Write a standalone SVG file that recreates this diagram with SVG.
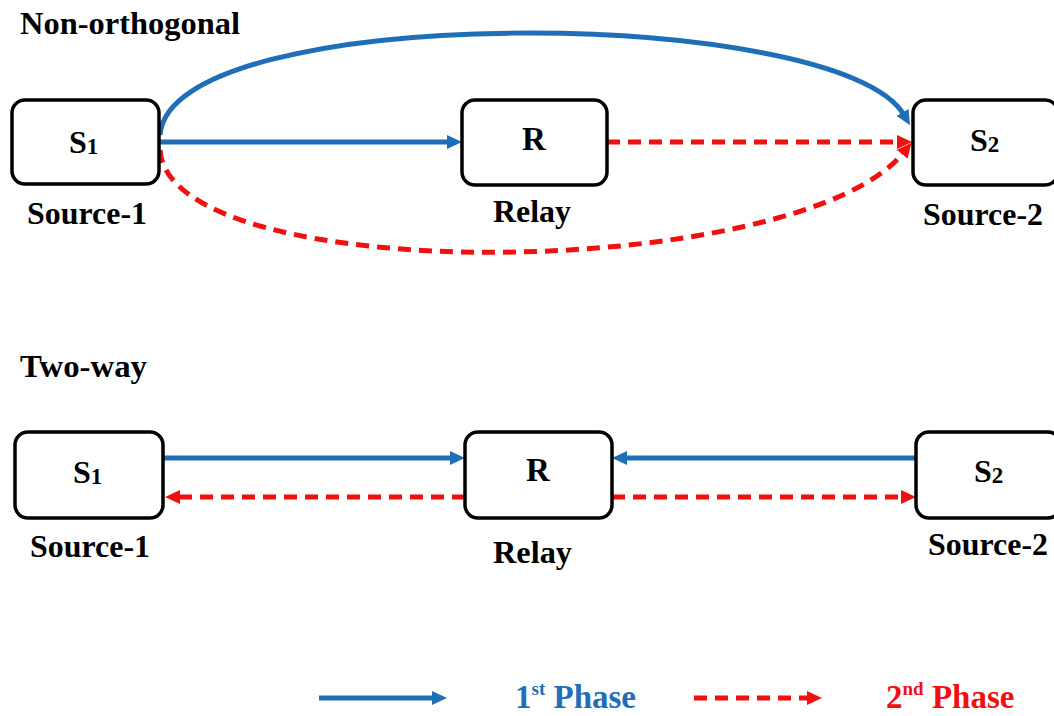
<svg xmlns="http://www.w3.org/2000/svg" width="1054" height="716" viewBox="0 0 1054 716">
<defs>
<style>
.box{fill:#fff;stroke:#000;stroke-width:3.5}
.t{font-family:"Liberation Serif","Times New Roman",serif;font-weight:bold;fill:#000}
.blue{fill:none;stroke:#1F6FB8;stroke-width:5}
.red{fill:none;stroke:#F01010;stroke-width:5;stroke-dasharray:13 8}
</style>
<marker id="ab" markerUnits="userSpaceOnUse" markerWidth="16" markerHeight="14" refX="3" refY="7" orient="auto">
<path d="M0,0 L15,7 L0,14 z" fill="#1F6FB8"/>
</marker>
<marker id="ar" markerUnits="userSpaceOnUse" markerWidth="16" markerHeight="14" refX="3" refY="7" orient="auto">
<path d="M0,0 L15,7 L0,14 z" fill="#F01010"/>
</marker>
</defs>
<rect width="1054" height="716" fill="#fff"/>

<text class="t" x="20" y="34" font-size="31" textLength="220" lengthAdjust="spacingAndGlyphs">Non-orthogonal</text>
<text class="t" x="20" y="377" font-size="31" textLength="127" lengthAdjust="spacingAndGlyphs">Two-way</text>

<g id="connectors">
<path class="blue" d="M160,142 L450,142" marker-end="url(#ab)"/>
<path class="red" d="M607,142 L900,142" marker-end="url(#ar)"/>
<path class="blue" d="M160,135 C170,0 840,5 904,115" marker-end="url(#ab)"/>
<path class="red" d="M160,150 C170,290 800,282 904,152" marker-end="url(#ar)"/>

<path class="blue" d="M163,458 L453,458" marker-end="url(#ab)"/>
<path class="red" d="M465,497 L177,497" marker-end="url(#ar)"/>
<path class="blue" d="M916,458 L624,458" marker-end="url(#ab)"/>
<path class="red" d="M612,497 L904,497" marker-end="url(#ar)"/>

<path class="blue" d="M319,698 L435,698" marker-end="url(#ab)"/>
<path class="red" d="M694,698 L810,698" marker-end="url(#ar)"/>
</g>

<g id="s1-top">
<rect class="box" x="12" y="100" width="147" height="84" rx="13"/>
<text class="t" x="69" y="153" font-size="32">S<tspan font-size="23" dy="1">1</tspan></text>
<text class="t" x="27" y="224" font-size="31" textLength="120" lengthAdjust="spacingAndGlyphs">Source-1</text>
</g>
<g id="r-top">
<rect class="box" x="462" y="100" width="145" height="85" rx="13"/>
<text class="t" x="534" y="150" font-size="33" text-anchor="middle">R</text>
<text class="t" x="493" y="222" font-size="31" textLength="78" lengthAdjust="spacingAndGlyphs">Relay</text>
</g>
<g id="s2-top">
<rect class="box" x="913" y="100" width="145" height="85" rx="13"/>
<text class="t" x="970" y="151" font-size="32">S<tspan font-size="23" dy="1">2</tspan></text>
<text class="t" x="923" y="225" font-size="31" textLength="120" lengthAdjust="spacingAndGlyphs">Source-2</text>
</g>

<g id="s1-bottom">
<rect class="box" x="15" y="432" width="148" height="86" rx="13"/>
<text class="t" x="73" y="483" font-size="32">S<tspan font-size="23" dy="1">1</tspan></text>
<text class="t" x="30" y="557" font-size="31" textLength="120" lengthAdjust="spacingAndGlyphs">Source-1</text>
</g>
<g id="r-bottom">
<rect class="box" x="465" y="432" width="147" height="86" rx="13"/>
<text class="t" x="538" y="481" font-size="33" text-anchor="middle">R</text>
<text class="t" x="493" y="563" font-size="31" textLength="79" lengthAdjust="spacingAndGlyphs">Relay</text>
</g>
<g id="s2-bottom">
<rect class="box" x="916" y="432" width="145" height="86" rx="13"/>
<text class="t" x="974" y="482" font-size="32">S<tspan font-size="23" dy="1">2</tspan></text>
<text class="t" x="928" y="555" font-size="31" textLength="120" lengthAdjust="spacingAndGlyphs">Source-2</text>
</g>

<g id="legend">
<text class="t" x="515" y="708" font-size="33" style="fill:#1F6FB8">1<tspan font-size="19" dy="-13">st</tspan><tspan dy="13"> Phase</tspan></text>
<text class="t" x="886" y="708" font-size="33" style="fill:#F01010">2<tspan font-size="19" dy="-13">nd</tspan><tspan dy="13"> Phase</tspan></text>
</g>
</svg>
